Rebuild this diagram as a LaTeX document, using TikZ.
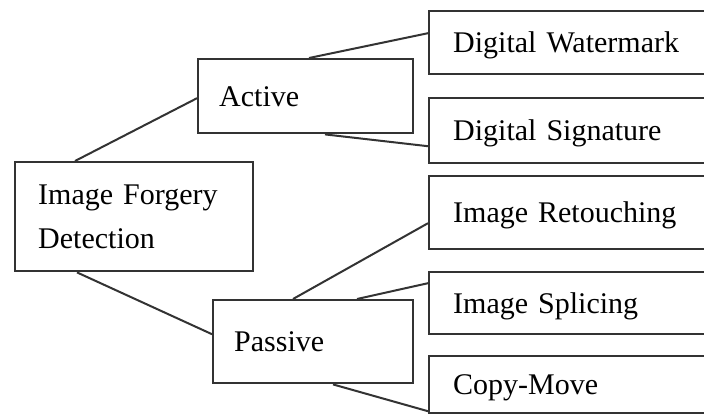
\documentclass[tikz,border=0pt]{standalone}
\usepackage{fontspec}
\setmainfont{Liberation Serif}

\begin{document}
\begin{tikzpicture}[x=1pt,y=-1pt,
    box/.style={draw=black!80, line width=2.4pt, rectangle, anchor=north west,
      align=left, font=\fontsize{30}{44}\selectfont, text height=20pt,
      text depth=0pt, inner ysep=0pt},
    leaf/.style={box, inner xsep=24pt, text width=252pt, minimum width=300pt},
    link/.style={draw=black!80, line width=2pt}]
          \clip (0,0) rectangle (704,413);
          \useasboundingbox (0,0) rectangle (704,413);
          \node[box, inner xsep=23pt, text width=192pt, minimum height=109pt,
            text depth=44pt] (root) at (14,161) {Image Forgery\\Detection};
          \node[box, inner xsep=21pt, text width=173pt, minimum height=74pt] (active) at (197,58) {Active};
          \node[box, inner xsep=21pt, text width=158pt, minimum height=83pt] (passive) at (212,299) {Passive};
          \node[leaf, minimum height=63pt] (water) at (428,10) {Digital Watermark};
          \node[leaf, minimum height=65pt] (sign) at (428,97) {Digital Signature};
          \node[leaf, minimum height=73pt] (retouch) at (428,175) {Image Retouching};
          \node[leaf, minimum height=62pt] (splice) at (428,271) {Image Splicing};
          \node[leaf, minimum height=57pt] (copymove) at (428,355) {Copy-Move};
          \draw[link] ([xshift=61pt]root.north west) -- ([yshift=-2pt]active.west);
          \draw[link] ([xshift=63pt]root.south west) -- ([yshift=7.5pt]passive.west);
          \draw[link] ([xshift=112pt]active.north west) -- ([yshift=9.5pt]water.west);
          \draw[link] ([xshift=128pt]active.south west) -- ([yshift=-15.5pt]sign.west);
          \draw[link] ([xshift=81pt]passive.north west) -- ([yshift=-10.5pt]retouch.west);
          \draw[link] ([xshift=145pt]passive.north west) -- ([yshift=20pt]splice.west);
          \draw[link] ([xshift=121pt]passive.south west) -- ([yshift=-26.5pt]copymove.west);% bottom box runs off the page
        \end{tikzpicture}
\end{document}
